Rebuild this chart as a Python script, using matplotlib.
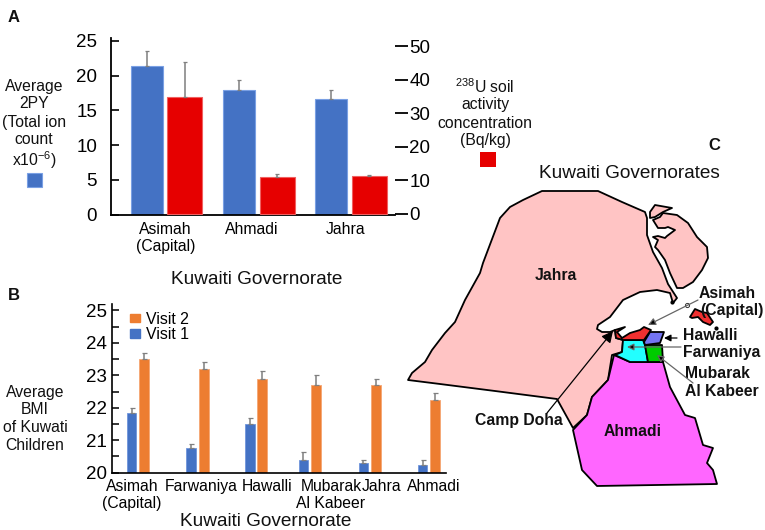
import matplotlib
matplotlib.use('Agg')
import matplotlib.pyplot as plt
from matplotlib.patches import Polygon, Rectangle, Patch
import numpy as np

plt.rcParams['font.family'] = ['Liberation Sans', 'DejaVu Sans']
plt.rcParams['mathtext.default'] = 'regular'

W, H = 765, 530

# panel A
a_labels = ['Asimah\n(Capital)', 'Ahmadi', 'Jahra']
a_2py = [21.4, 18.0, 16.6]
a_2py_err = [2.1, 1.4, 1.4]
a_u238 = [34.9, 11.0, 11.2]
a_u238_err = [10.5, 0.8, 0.4]

# panel B
b_labels = ['Asimah\n(Capital)', 'Farwaniya', 'Hawalli', 'Mubarak\nAl Kabeer', 'Jahra', 'Ahmadi']
b_visit1 = [21.85, 20.75, 21.5, 20.4, 20.3, 20.25]
b_visit1_err = [0.15, 0.15, 0.2, 0.25, 0.1, 0.15]
b_visit2 = [23.5, 23.2, 22.9, 22.7, 22.7, 22.25]
b_visit2_err = [0.2, 0.2, 0.25, 0.3, 0.2, 0.2]

# panel C, map outlines in picture pixels
jahra = [(542, 191), (598, 191), (622, 202), (645, 212), (647, 218), (647, 235), (653, 252),
         (662, 268), (668, 284), (677, 298), (673, 303), (670, 293), (657, 290), (640, 292),
         (623, 300), (610, 317), (598, 325), (597, 329), (602, 332), (610, 332), (615, 330),
         (616, 338), (623, 340), (622, 352), (612, 355), (608, 380), (592, 397), (587, 415),
         (573, 428), (557, 399), (495, 391), (440, 384), (408, 380), (412, 373), (425, 362),
         (432, 350), (445, 333), (455, 322), (465, 300), (480, 273), (483, 263), (500, 218),
         (510, 207), (523, 200)]
bubiyan = [(663, 213), (677, 215), (688, 223), (697, 237), (707, 247), (708, 258), (702, 270),
           (693, 282), (683, 288), (677, 288), (670, 273), (665, 260), (658, 250), (655, 247),
           (658, 240), (653, 237), (658, 236), (665, 238), (667, 236), (675, 230), (668, 227),
           (665, 228), (658, 228), (653, 220), (660, 217)]
warbah = [(650, 212), (655, 205), (672, 208), (663, 212), (655, 217), (650, 218)]
ahmadi = [(614, 355), (630, 362), (648, 362), (663, 362), (670, 387), (685, 415), (695, 418),
          (703, 445), (713, 448), (707, 463), (713, 470), (717, 484), (597, 486), (582, 470),
          (573, 430), (587, 415), (592, 397), (608, 380)]
farwaniya = [(623, 340), (643, 340), (645, 345), (648, 362), (630, 362), (615, 355), (622, 352)]
mubarak = [(645, 345), (662, 345), (663, 362), (648, 362)]
hawalli = [(650, 332), (664, 332), (660, 343), (645, 345), (644, 342)]
capital = [(615, 330), (625, 327), (617, 332), (622, 338), (630, 333), (640, 330), (644, 327),
           (651, 330), (644, 340), (623, 340), (616, 338)]
capital_island = [(690, 317), (695, 309), (702, 312), (707, 313), (713, 322), (710, 325),
                  (703, 322), (698, 317), (692, 318)]


def px_axes(left, top, right, bottom):
    return fig.add_axes([left / W, 1 - bottom / H, (right - left) / W, (bottom - top) / H])


fig = plt.figure(figsize=(W / 100, H / 100), dpi=100)

# --- panel A ---
ax = px_axes(111, 38, 395, 214.5)
ax2 = ax.twinx()
unit = 92.25
a_x = np.arange(3)
ax.set_xlim((111 - 165.75) / unit, (395 - 165.75) / unit)
ax.set_ylim(0, 25.43)
ax2.set_ylim(-0.15, 52.4)
err_kw = dict(ecolor='#7f7f7f', elinewidth=1.1, capsize=1.6, capthick=0.9)
ax.bar(a_x - 19 / unit, a_2py, 32 / unit, color='#4472C4', edgecolor='#7AA0E4', linewidth=0.8,
       yerr=[np.zeros(3), a_2py_err], error_kw=err_kw)
ax2.bar(a_x + 19 / unit, a_u238, 35 / unit, color='#E60000', edgecolor='#F06060', linewidth=0.8,
        yerr=[np.zeros(3), a_u238_err], error_kw=err_kw)
ax.set_yticks([0, 5, 10, 15, 20, 25])
ax2.set_yticks([0, 10, 20, 30, 40, 50])
ax.tick_params(axis='y', direction='in', length=6, width=1.2, labelsize=13.5, pad=10)
ax2.tick_params(axis='y', direction='out', length=9.4, width=1.3, labelsize=13.5, pad=1)
ax.set_xticks([0, (252 - 165.75) / unit, (346 - 165.75) / unit])
ax.set_xticklabels(a_labels, fontsize=11.3, linespacing=1.15)
ax.tick_params(axis='x', length=0, pad=5.5)
for s in ['top', 'right']:
    ax.spines[s].set_visible(False)
for s in ['top', 'right', 'left', 'bottom']:
    ax2.spines[s].set_visible(False)
for s in ['left', 'bottom']:
    ax.spines[s].set_linewidth(1.3)

# --- panel B ---
bx = px_axes(112, 304, 446, 472.7)
b_unit = 58.2
b_x = np.array([0, 1.02, 2.03, 2.95, 3.98, 5.0])
bx.set_xlim((112 - 138) / b_unit, (446 - 138) / b_unit)
bx.set_ylim(20, 25.2)
b_err = dict(ecolor='#7f7f7f', elinewidth=1.1, capsize=1.8, capthick=0.9)
bx.bar(b_x - 6.3 / b_unit, np.array(b_visit1) - 20, 9.5 / b_unit, bottom=20, color='#4472C4',
       edgecolor='#6F95DC', linewidth=0.6, yerr=[np.zeros(6), b_visit1_err], error_kw=b_err)
bx.bar(b_x + 6.3 / b_unit, np.array(b_visit2) - 20, 10 / b_unit, bottom=20, color='#ED7D31',
       edgecolor='#F5A673', linewidth=0.6, yerr=[np.zeros(6), b_visit2_err], error_kw=b_err)
bx.set_yticks([20, 21, 22, 23, 24, 25])
bx.set_yticks(np.arange(20.5, 25, 1), minor=True)
bx.tick_params(axis='y', which='both', direction='in', length=5, width=1.1, labelsize=13.5, pad=3.5)
# labels sit unevenly under the bars in the original
bx.set_xticks([(px - 138) / b_unit for px in [132, 201, 267, 331, 381.5, 434]])
bx.set_xticklabels(b_labels, fontsize=11.3, linespacing=1.15)
bx.tick_params(axis='x', length=0, pad=4.5)
for s in ['top', 'right']:
    bx.spines[s].set_visible(False)
for s in ['left', 'bottom']:
    bx.spines[s].set_linewidth(1.2)
bx.legend(handles=[Patch(color='#ED7D31', label='Visit 2'), Patch(color='#4472C4', label='Visit 1')],
          loc='upper left', bbox_to_anchor=(0.054, 0.955), frameon=False, fontsize=11.4,
          handlelength=0.62, handleheight=0.45, handletextpad=0.4, labelspacing=0.05,
          borderpad=0, borderaxespad=0)

# --- overlay in pixels: texts, swatches and map ---
ov = fig.add_axes([0, 0, 1, 1], facecolor='none')
ov.set_xlim(0, W)
ov.set_ylim(H, 0)
ov.axis('off')


def label(x, y, s, size=11.3, weight='normal', ha='center'):
    ov.text(x, y + 1, s, fontsize=size, fontweight=weight, ha=ha, va='center', color='#111111')


for x, y, s in [(14, 16, 'A'), (14, 294, 'B'), (714, 145, 'C')]:
    label(x, y, s, size=12, weight='bold')

for y, s in zip([85, 103, 121, 139], ['Average', '2PY', '(Total ion', 'count']):
    label(34, y, s)
label(34, 159, r'x10$^{-6}$)')
ov.add_patch(Rectangle((27, 173), 15, 14, fc='#4472C4', ec='#7AA0E4', lw=0.8))

label(485, 86, r'$^{238}$U soil')
for y, s in zip([104, 122, 140], ['activity', 'concentration', '(Bq/kg)']):
    label(485, y, s)
ov.add_patch(Rectangle((480, 152), 16, 15, fc='#E60000', ec='none'))

label(257, 278, 'Kuwaiti Governorate', size=13.7)
label(266, 520, 'Kuwaiti Governorate', size=13.7)
for y, s in zip([392, 409, 427, 445], ['Average', 'BMI', 'of Kuwati', 'Children']):
    label(35, y, s)
label(629, 173, 'Kuwaiti Governorates', size=13.7)

for pts, col in [(jahra, '#FFC4C4'), (bubiyan, '#FFC4C4'), (warbah, '#FFC4C4'), (ahmadi, '#FF66FF'),
                 (farwaniya, '#22FFFF'), (mubarak, '#00CC00'), (hawalli, '#7474F2'),
                 (capital, '#F03030'), (capital_island, '#F03030')]:
    ov.add_patch(Polygon(pts, closed=True, fc=col, ec='black', lw=1.3, joinstyle='round'))

for x, y, s, ha in [(556, 275, 'Jahra', 'center'), (633, 431, 'Ahmadi', 'center'),
                    (699, 292, 'Asimah', 'left'), (700, 310, '(Capital)', 'left'),
                    (683, 335, 'Hawalli', 'left'), (683, 352, 'Farwaniya', 'left'),
                    (685, 373, 'Mubarak', 'left'), (685, 391, 'Al Kabeer', 'left'),
                    (475, 420, 'Camp Doha', 'left')]:
    label(x, y, s, weight='bold', ha=ha)

for start, end, col, ms in [((698, 300), (648, 325), '#666666', 11), ((677, 338), (664, 338), 'black', 10),
                            ((681, 347), (627, 347), '#666666', 10), ((693, 383), (657, 355), '#666666', 10),
                            ((547, 413), (613, 331), 'black', 17)]:
    ov.annotate('', xy=end, xytext=start,
                arrowprops=dict(arrowstyle='-|>', color=col, lw=0.9, mutation_scale=ms,
                                shrinkA=0, shrinkB=0, fc='black', ec=col))
ov.plot([687], [305], 'o', ms=3, mfc='white', mec='#333333', mew=0.7)
ov.plot([716, 672], [328, 302], 'o', ms=2, color='black')

fig.savefig('out.png', dpi=100)
